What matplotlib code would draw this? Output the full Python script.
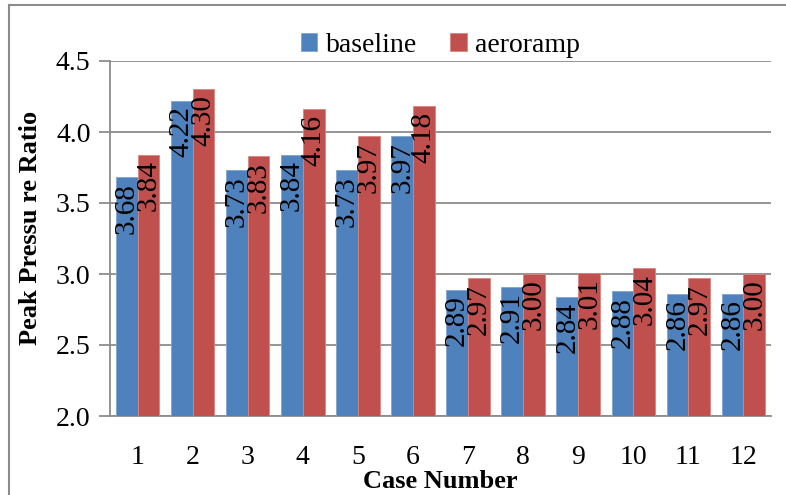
import matplotlib
matplotlib.use("Agg")
import matplotlib.pyplot as plt
from matplotlib.lines import Line2D
import numpy as np

cases = ["1", "2", "3", "4", "5", "6", "7", "8", "9", "10", "11", "12"]
baseline = [3.68, 4.22, 3.73, 3.84, 3.73, 3.97, 2.89, 2.91, 2.84, 2.88, 2.86, 2.86]
aeroramp = [3.84, 4.30, 3.83, 4.16, 3.97, 4.18, 2.97, 3.00, 3.01, 3.04, 2.97, 3.00]
yticks = [2.0, 2.5, 3.0, 3.5, 4.0, 4.5]

plt.rcParams["font.family"] = ["Liberation Serif", "DejaVu Serif"]

W, H = 786, 495
fig = plt.figure(figsize=(W / 100, H / 100), dpi=100)
ax_bottom, ax_top = 416, 61
ax = fig.add_axes([110 / W, 1 - ax_bottom / H, (771 - 110) / W, (ax_bottom - ax_top) / H])

grid_c = "#8c8c8c"
x = np.arange(len(cases))
bw = 0.395
b1 = ax.bar(x - bw / 2, baseline, bw, color="#4F81BD", edgecolor="#7fa3d3",
            linewidth=0.6, label="baseline", zorder=3)
b2 = ax.bar(x + bw / 2, aeroramp, bw, color="#C0504D", edgecolor="#d88480",
            linewidth=0.6, label="aeroramp", zorder=3)

# value labels, rotated, inside the top of each bar
for bars in (b1, b2):
    for r in bars:
        ax.annotate(f"{r.get_height():.2f}",
                    (r.get_x() + r.get_width() / 2, r.get_height()),
                    xytext=(0, -4), textcoords="offset points",
                    rotation=90, ha="center", va="top", fontsize=21, zorder=4)

ax.set_xlim(-0.5, len(cases) - 0.5)
ax.set_ylim(2.0, 4.5)
ax.set_yticks(yticks)
ax.set_yticklabels([f"{v:.1f}" for v in yticks], fontsize=20)
ax.set_xticks(x)
ax.set_xticklabels(cases, fontsize=20)
ax.tick_params(axis="x", length=0, pad=21)
ax.tick_params(axis="y", length=8, width=1.3, color=grid_c, pad=6)

ax.yaxis.grid(True, color=grid_c, linewidth=1.3, zorder=0)
ax.set_axisbelow(True)
for s in ("top", "right"):
    ax.spines[s].set_visible(False)
for s in ("left", "bottom"):
    ax.spines[s].set_color(grid_c)
    ax.spines[s].set_linewidth(1.3)

ah = ax_bottom - ax_top
ax.set_ylabel("Peak Pressu re Ratio", fontsize=19, fontweight="bold", va="center")
ax.yaxis.set_label_coords(-(110 - 31) / (771 - 110), (ax_bottom - 228) / ah)
ax.set_xlabel("Case Number", fontsize=19, fontweight="bold", va="center")
ax.xaxis.set_label_coords(0.5, -(481 - ax_bottom) / ah)

ax.legend(loc="center", bbox_to_anchor=(0.5, (ax_bottom - 45) / ah), ncol=2,
          frameon=False, fontsize=20, handlelength=0.6, handleheight=0.6,
          handletextpad=0.3, columnspacing=1.2)

# outer chart border
fig.add_artist(Line2D([9 / W, 9 / W], [0, 1 - 5 / H], color=grid_c, linewidth=1.5))
fig.add_artist(Line2D([9 / W, 1], [1 - 5 / H, 1 - 5 / H], color=grid_c, linewidth=1.5))

fig.savefig("out.png", dpi=100)
